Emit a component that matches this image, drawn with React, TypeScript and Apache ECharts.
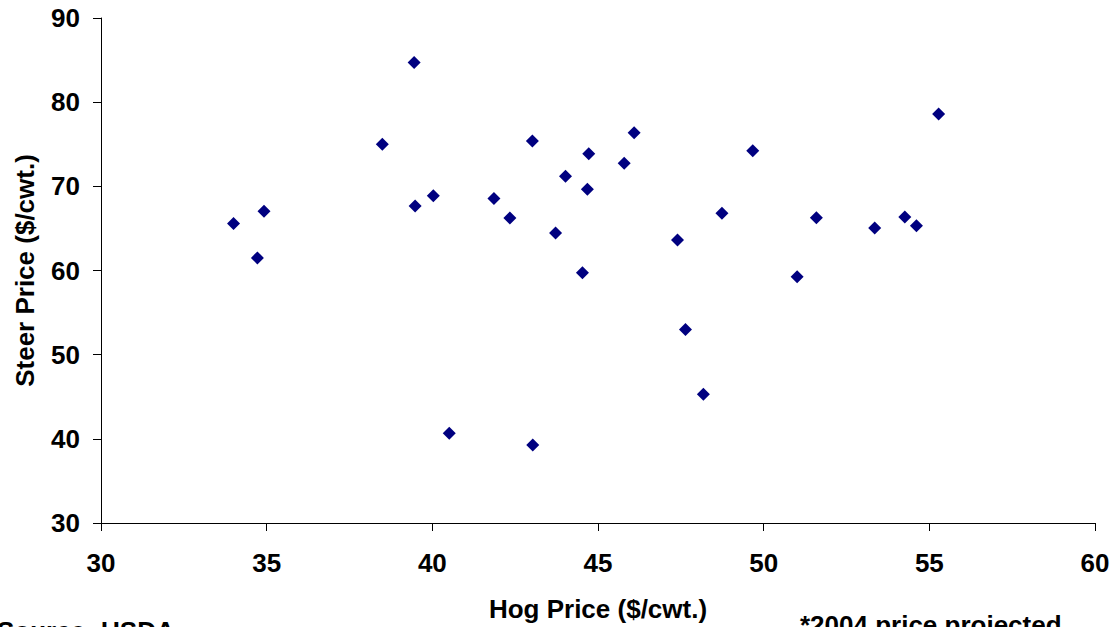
import React, { useEffect, useRef } from "react";
import * as echarts from "echarts";

const hogPrice = [
  34.0, 34.72, 34.92, 38.49, 39.45, 39.48, 40.03, 40.51, 41.86, 42.34,
  43.02, 43.03, 43.72, 44.02, 44.53, 44.68, 44.72, 45.79, 46.09, 47.4,
  47.64, 48.18, 48.74, 49.67, 51.01, 51.59, 53.35, 54.26, 54.61, 55.28,
];
const steerPrice = [
  65.57, 61.5, 67.05, 75.0, 84.72, 67.65, 68.87, 40.67, 68.55, 66.25,
  75.38, 39.28, 64.45, 71.2, 59.73, 69.65, 73.87, 72.75, 76.36, 63.62,
  53.0, 45.3, 66.8, 74.23, 59.25, 66.28, 65.06, 66.37, 65.33, 78.58,
];
const xTitle = "Hog Price ($/cwt.)";
const yTitle = "Steer Price ($/cwt.)";
const sourceNote = "Source: USDA";
const projNote = "*2004 price projected";

const FONT = "'Liberation Sans', Arial, sans-serif";

export default function App() {
  const ref = useRef<HTMLDivElement>(null);
  useEffect(() => {
    if (!ref.current) return;
    const chart = echarts.init(ref.current, undefined, { renderer: "svg" });
    const axisCommon = {
      type: "value" as const,
      nameLocation: "middle" as const,
      nameTextStyle: { fontFamily: FONT, fontWeight: "bold", fontSize: 26, color: "#000" },
      axisLine: { show: true, onZero: false, lineStyle: { color: "#000", width: 1 } },
      axisTick: { show: true, inside: false, length: 8, lineStyle: { color: "#000", width: 1 } },
      axisLabel: { fontFamily: FONT, fontWeight: "bold", fontSize: 26, color: "#000" },
      splitLine: { show: false },
    };
    chart.setOption({
      animation: false,
      backgroundColor: "#fff",
      grid: { left: 101, right: 22, top: 18, bottom: 103, containLabel: false },
      xAxis: {
        ...axisCommon,
        min: 30,
        max: 60,
        interval: 5,
        name: xTitle,
        nameGap: 73,
        axisLabel: { ...axisCommon.axisLabel, margin: 27 },
      },
      yAxis: {
        ...axisCommon,
        min: 30,
        max: 90,
        interval: 10,
        name: yTitle,
        nameGap: 63,
        axisLabel: { ...axisCommon.axisLabel, margin: 21 },
      },
      series: [
        {
          type: "scatter",
          symbol: "diamond",
          symbolSize: 13,
          itemStyle: { color: "#000080", opacity: 1 },
          data: hogPrice.map((x, i) => [x, steerPrice[i]]),
        },
      ],
      graphic: [
        {
          type: "text",
          left: -3,
          top: 618,
          style: {
            text: sourceNote,
            fontFamily: FONT,
            fontWeight: "bold",
            fontSize: 26,
            fill: "#000",
          },
        },
        {
          type: "text",
          left: 800,
          top: 612,
          style: {
            text: projNote,
            fontFamily: FONT,
            fontWeight: "bold",
            fontSize: 26,
            fill: "#000",
          },
        },
      ],
    });
    return () => chart.dispose();
  }, []);
  return (
    <div
      ref={ref}
      style={{ position: "fixed", left: 0, top: 0, width: 1117, height: 627, background: "#fff" }}
    />
  );
}
